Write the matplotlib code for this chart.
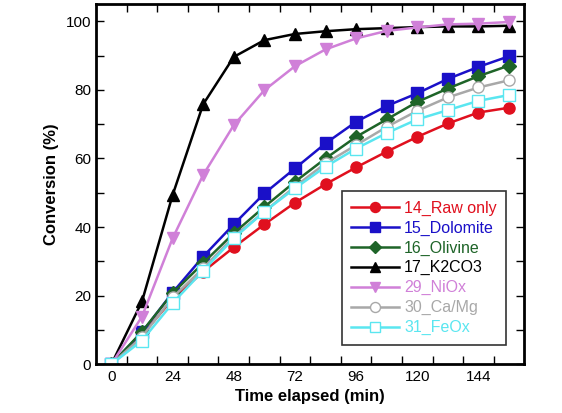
import numpy as np
import matplotlib
matplotlib.use("Agg")
import matplotlib.pyplot as plt
from matplotlib.ticker import MultipleLocator, FixedLocator

plt.rcParams['font.family'] = ['Liberation Sans', 'DejaVu Sans']

# time points (min)
time = [0, 12, 24, 36, 48, 60, 72, 84, 96, 108, 120, 132, 144, 156]

# conversion (%) for each run
raw_only = [0, 8.5, 19, 27, 34.1, 40.8, 47.1, 52.5, 57.4, 62, 66.3, 70.2, 73.4, 74.8]
dolomite = [0, 9.3, 20.9, 31.4, 40.8, 49.8, 57.1, 64.4, 70.7, 75.3, 79, 83.2, 86.7, 89.8]
olivine = [0, 9.5, 20.7, 29.5, 38.2, 45.9, 53.2, 60, 66.3, 71.4, 76.5, 80.4, 84, 87.1]
k2co3 = [0, 18.3, 49.3, 75.8, 89.6, 94.5, 96.3, 97.1, 97.7, 98, 98.3, 98.5, 98.5, 98.7]
niox = [0, 13.9, 36.7, 55.2, 69.7, 79.9, 86.9, 91.8, 95, 97.2, 98.2, 99.1, 99.3, 99.8]
camg = [0, 8, 19.5, 28, 37.2, 44.5, 51.8, 58.6, 63.9, 69.2, 73.9, 77.8, 80.7, 82.8]
feox = [0, 6.9, 17.8, 27.3, 36.7, 44.5, 51.3, 57.6, 62.9, 67.4, 71.4, 74.1, 76.8, 78.5]

labels = ['14_Raw only', '15_Dolomite', '16_Olivine', '17_K2CO3',
          '29_NiOx', '30_Ca/Mg', '31_FeOx']
x_labels = [0, 24, 48, 72, 96, 120, 144]

series = [
    (raw_only, '#e0101e', 'o', True, 8),
    (dolomite, '#1a10c8', 's', True, 8),
    (olivine, '#1e6428', 'D', True, 7),
    (k2co3, '#000000', '^', True, 8.5),
    (niox, '#d080d8', 'v', True, 8.5),
    (camg, '#a8a8a8', 'o', False, 8),
    (feox, '#5ae6f0', 's', False, 8),
]

fig = plt.figure(figsize=(5.62, 4.13), dpi=100)
ax = fig.add_axes([0.171, 0.118, 0.762, 0.872])

for (vals, color, marker, filled, ms), label in zip(series, labels):
    ax.plot(time, vals, color=color, marker=marker, markersize=ms, linewidth=1.8,
            markerfacecolor=color if filled else 'white',
            markeredgecolor=color, markeredgewidth=1.0, label=label)

ax.set_xlim(-6, 162)
ax.set_ylim(0, 105)

# labels every 24 min, tick marks every 12 min starting at 6
ax.xaxis.set_major_locator(FixedLocator(x_labels))
ax.xaxis.set_minor_locator(FixedLocator(np.arange(6, 162, 12)))
ax.yaxis.set_major_locator(MultipleLocator(20))
ax.yaxis.set_minor_locator(MultipleLocator(10))
ax.tick_params(axis='x', which='major', length=0, pad=4, labelsize=11)
ax.tick_params(axis='x', which='minor', direction='in', length=6, width=1,
               top=True, bottom=True)
ax.tick_params(axis='y', which='both', direction='in', length=6, width=1,
               left=True, right=True, labelsize=11)

for s in ax.spines.values():
    s.set_linewidth(2)

ax.set_xlabel('Time elapsed (min)', fontsize=12, fontweight='bold', labelpad=4)
ax.set_ylabel('Conversion (%)', fontsize=12, fontweight='bold', labelpad=5)

leg = ax.legend(loc='lower right', bbox_to_anchor=(0.958, 0.054), numpoints=1,
                fontsize=11.5, handlelength=3, handletextpad=0.3, labelspacing=0.3,
                markerscale=0.9, frameon=True, fancybox=False, borderpad=0.6,
                borderaxespad=0)
leg.get_frame().set_edgecolor('black')
leg.get_frame().set_linewidth(1.2)
for text, (vals, color, *_ ) in zip(leg.get_texts(), series):
    text.set_color(color)

fig.savefig('out.png', dpi=100)
